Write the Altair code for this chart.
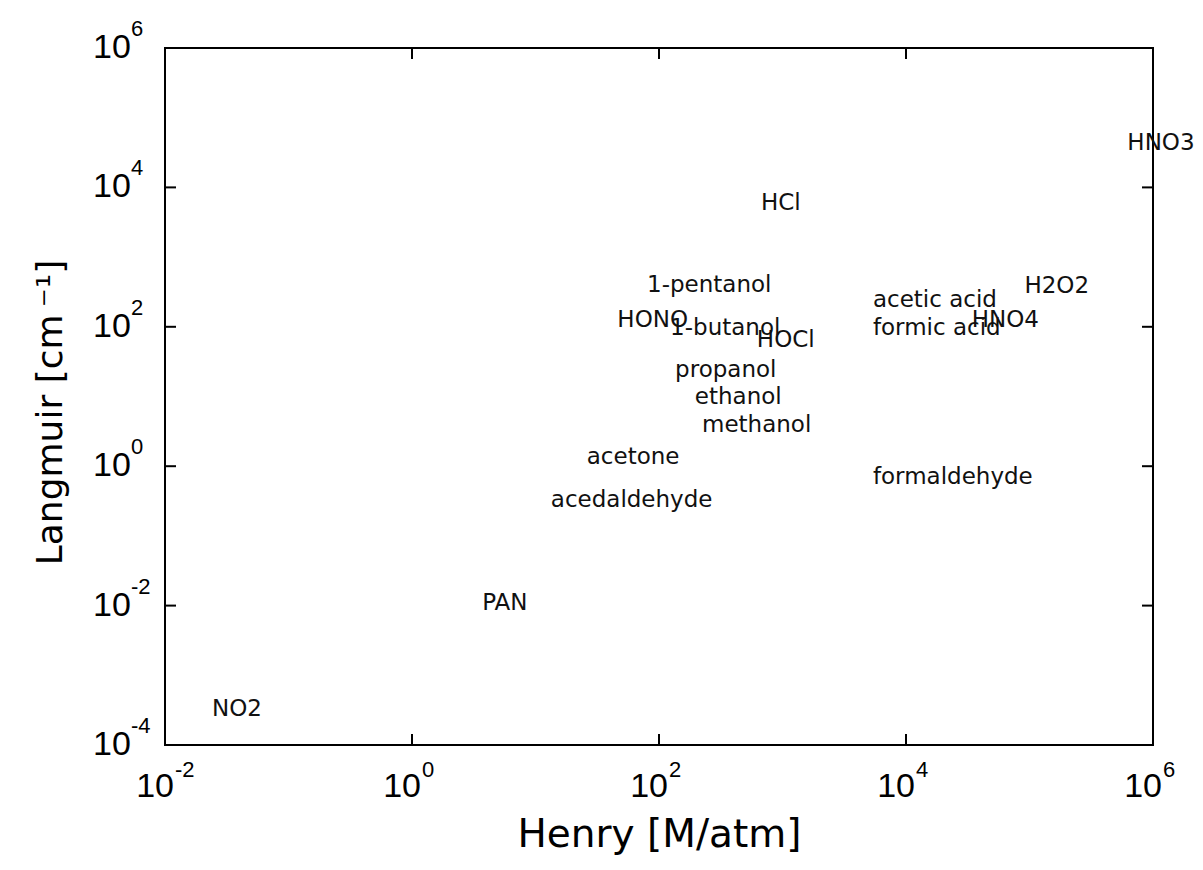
import altair as alt
import pandas as pd

# ---- data ----
names = ["HNO3", "HCl", "1-pentanol", "HONO", "1-butanol", "HOCl", "propanol",
         "ethanol", "methanol", "acetone", "acedaldehyde", "PAN", "NO2",
         "acetic acid", "formic acid", "HNO4", "H2O2", "formaldehyde"]
henry = [6.2e5, 670, 80, 46, 123, 620, 135, 195, 223, 26, 13.3, 3.7, 0.024,
         5400, 5400, 34000, 91000, 5400]
langmuir = [4.3e4, 6000, 400, 125, 96, 65, 24, 9.8, 3.9, 1.36, 0.33, 0.011, 3.3e-4,
            242, 96, 125, 385, 0.70]

x_tick_values = [1e-2, 1e0, 1e2, 1e4, 1e6]
x_tick_exponents = ["-2", "0", "2", "4", "6"]
y_tick_values = [1e-4, 1e-2, 1e0, 1e2, 1e4, 1e6]
y_tick_exponents = ["-4", "-2", "0", "2", "4", "6"]

W, H = 988, 697

df = pd.DataFrame({"name": names, "henry": henry, "langmuir": langmuir})
xt = pd.DataFrame({"henry": x_tick_values, "exp": x_tick_exponents, "base": ["10"] * len(x_tick_values)})
yt = pd.DataFrame({"langmuir": y_tick_values, "exp": y_tick_exponents, "base": ["10"] * len(y_tick_values)})

xscale = alt.Scale(type="log", domain=[1e-2, 1e6], nice=False)
yscale = alt.Scale(type="log", domain=[1e-4, 1e6], nice=False)

xaxis = alt.Axis(title="Henry [M/atm]", labels=False, ticks=False, domain=False, grid=False,
                 titleFont="DejaVu Sans", titleFontSize=39, titleFontWeight="normal",
                 titleColor="black", titleBaseline="top", titleY=70)
yaxis = alt.Axis(title="Langmuir [cm\u2009⁻¹]", labels=False, ticks=False, domain=False, grid=False,
                 titleFont="DejaVu Sans", titleFontSize=36, titleFontWeight="normal",
                 titleColor="black", titleAngle=270, titleAlign="center",
                 titleBaseline="middle", titleX=-115, titleY=364)

X = alt.X("henry:Q", scale=xscale, axis=xaxis)
Y = alt.Y("langmuir:Q", scale=yscale, axis=yaxis)

labels = alt.Chart(df).mark_text(
    align="left", baseline="middle", font="DejaVu Sans", fontSize=23, color="#111111"
).encode(x=X, y=Y, text="name:N")

rule_style = dict(color="black", strokeWidth=2)
xticks_bottom = alt.Chart(xt).mark_rule(**rule_style).encode(x=X, y=alt.value(H), y2=alt.value(H - 11))
xticks_top = alt.Chart(xt).mark_rule(**rule_style).encode(x=X, y=alt.value(0), y2=alt.value(11))
yticks_left = alt.Chart(yt).mark_rule(**rule_style).encode(y=Y, x=alt.value(0), x2=alt.value(11))
yticks_right = alt.Chart(yt).mark_rule(**rule_style).encode(y=Y, x=alt.value(W), x2=alt.value(W - 11))

xlab_base = alt.Chart(xt).mark_text(
    align="right", baseline="middle", font="Liberation Sans", fontSize=34, dx=9, color="black"
).encode(x=X, y=alt.value(H + 42), text="base:N")
xlab_exp = alt.Chart(xt).mark_text(
    align="left", baseline="middle", font="Liberation Sans", fontSize=22, dx=10, color="black"
).encode(x=X, y=alt.value(H + 25), text="exp:N")

ylab_base = alt.Chart(yt).mark_text(
    align="left", baseline="middle", font="Liberation Sans", fontSize=34, color="black"
).encode(y=Y, x=alt.value(-72), text="base:N")
ylab_exp = alt.Chart(yt).mark_text(
    align="left", baseline="middle", font="Liberation Sans", fontSize=22, dy=-19, color="black"
).encode(y=Y, x=alt.value(-34), text="exp:N")

chart = alt.layer(
    xticks_bottom, xticks_top, yticks_left, yticks_right,
    xlab_base, xlab_exp, ylab_base, ylab_exp, labels
).properties(
    width=W, height=H,
    background="white",
    autosize=alt.AutoSizeParams(type="none"),
    padding={"left": 165, "top": 48, "right": 50, "bottom": 125},
).configure_view(stroke="black", strokeWidth=2)

chart.save("out.html", embed_options={"renderer": "svg", "actions": False})
